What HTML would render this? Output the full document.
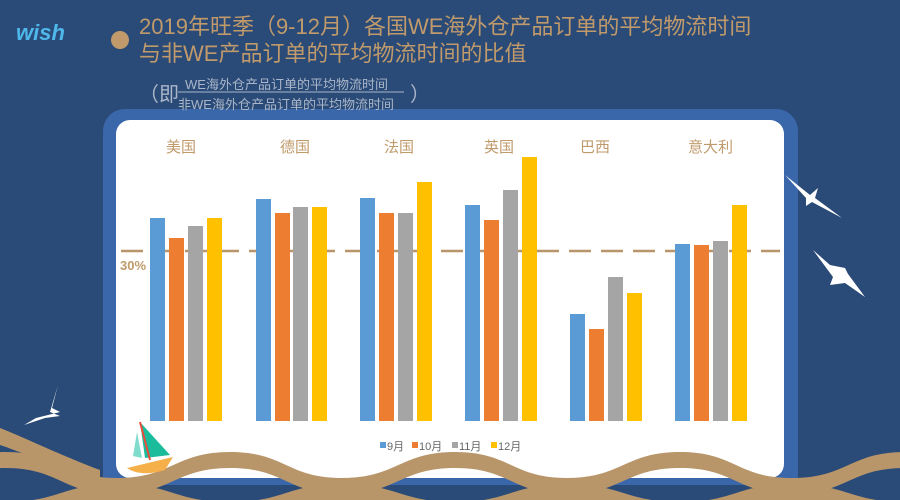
<!DOCTYPE html>
<html><head><meta charset="utf-8"><style>
body{margin:0;width:900px;height:500px;overflow:hidden;background:#2a4a77;font-family:"Liberation Sans","Noto Sans CJK SC",sans-serif;position:relative}
.t{position:absolute;color:#c09a6b;white-space:nowrap}
</style></head><body>
<svg width="900" height="500" style="position:absolute;left:0;top:0">
<rect x="103" y="109" width="695" height="400" rx="22" fill="#3a66aa"/>
<rect x="116" y="120" width="668" height="358" rx="14" fill="#fff"/>
<line x1="121" y1="251" x2="780" y2="251" stroke="#b8956a" stroke-width="2.5" stroke-dasharray="22,10"/>
<g fill="#5b9bd5"><rect x="150" y="218" width="15" height="203"/><rect x="256" y="199" width="15" height="222"/><rect x="360" y="198" width="15" height="223"/><rect x="465" y="205" width="15" height="216"/><rect x="570" y="314" width="15" height="107"/><rect x="675" y="244" width="15" height="177"/></g>
<g fill="#ed7d31"><rect x="169" y="238" width="15" height="183"/><rect x="275" y="213" width="15" height="208"/><rect x="379" y="213" width="15" height="208"/><rect x="484" y="220" width="15" height="201"/><rect x="589" y="329" width="15" height="92"/><rect x="694" y="245" width="15" height="176"/></g>
<g fill="#a5a5a5"><rect x="188" y="226" width="15" height="195"/><rect x="293" y="207" width="15" height="214"/><rect x="398" y="213" width="15" height="208"/><rect x="503" y="190" width="15" height="231"/><rect x="608" y="277" width="15" height="144"/><rect x="713" y="241" width="15" height="180"/></g>
<g fill="#ffc000"><rect x="207" y="218" width="15" height="203"/><rect x="312" y="207" width="15" height="214"/><rect x="417" y="182" width="15" height="239"/><rect x="522" y="157" width="15" height="264"/><rect x="627" y="293" width="15" height="128"/><rect x="732" y="205" width="15" height="216"/></g>
<rect x="380" y="442" width="6" height="6" fill="#5b9bd5"/><rect x="412" y="442" width="6" height="6" fill="#ed7d31"/><rect x="452" y="442" width="6" height="6" fill="#a5a5a5"/><rect x="491" y="442" width="6" height="6" fill="#ffc000"/>
<rect x="0" y="485" width="900" height="15" fill="#2a4a77"/>
<g fill="#b8966a">
<path d="M-220,452 C-165,452 -163,478 -108,478 C-53,478 -50,452 5,452 C60,452 62,478 117,478 C172,478 175,452 230,452 C285,452 287,478 342,478 C397,478 400,452 455,452 C510,452 512,478 567,478 C622,478 625,452 680,452 C735,452 737,478 792,478 C847,478 850,452 905,452
L905,468 C850,468 847,494 792,494 C737,494 735,468 680,468 C625,468 622,494 567,494 C512,494 510,468 455,468 C400,468 397,494 342,494 C287,494 285,468 230,468 C175,468 172,494 117,494 C62,494 60,468 5,468 C-50,468 -53,494 -108,494 Z"/>
<path d="M5,502 C60,502 62,484 117,484 C172,484 175,502 230,502 C285,502 287,484 342,484 C397,484 400,502 455,502 C510,502 512,484 567,484 C622,484 625,502 680,502 C735,502 737,484 792,484 C847,484 850,502 905,502 L905,510 L5,510Z"/>
<path d="M0,428 C30,440 60,455 100,470 L100,480 C60,470 30,455 0,445Z"/>
</g>
<path d="M140,422 L170,455 L145,458Z" fill="#1abc9c"/><path d="M137,432 L142,458 L133,456Z" fill="#7fdccc"/>
<line x1="140" y1="422" x2="150" y2="460" stroke="#e74c3c" stroke-width="2"/>
<path d="M127,468 L173,457 L165,470 C150,475 135,474 127,468Z" fill="#f5b04a"/>
<g fill="#fff">
<path d="M785,175 L810,195 L818,188 L815,198 L842,218 L812,202 L806,206 L806,198Z"/>
<path d="M813,250 L830,265 L845,268 L848,274 L865,297 L845,283 L830,285 L833,277Z"/>
<path d="M58,385 L52,408 L60,412 L36,418 L24,425 L45,418 L60,416 L50,412 Z"/>
</g>
<circle cx="120" cy="40" r="9" fill="#c09a6b"/>
<line x1="178" y1="92" x2="404" y2="92" stroke="#aab6c9" stroke-width="1"/>
</svg>
<div class="t" style="left:16px;top:20px;color:#4fb8ea;font-weight:bold;font-size:22px;font-style:italic">wish</div>
<div class="t" style="left:139px;top:13px;font-size:22px;line-height:27px">2019年旺季（9-12月）各国WE海外仓产品订单的平均物流时间<br>与非WE产品订单的平均物流时间的比值</div>
<div class="t" style="left:139px;top:78px;font-size:20px;color:#aab6c9">（即</div>
<div class="t" style="left:185px;top:74px;font-size:13px;color:#aab6c9">WE海外仓产品订单的平均物流时间</div>
<div class="t" style="left:178px;top:94px;font-size:13px;color:#aab6c9">非WE海外仓产品订单的平均物流时间</div>
<div class="t" style="left:410px;top:78px;font-size:20px;color:#aab6c9">）</div>
<div class="t" style="left:166px;top:136px;font-size:15px">美国</div>
<div class="t" style="left:280px;top:136px;font-size:15px">德国</div>
<div class="t" style="left:384px;top:136px;font-size:15px">法国</div>
<div class="t" style="left:484px;top:136px;font-size:15px">英国</div>
<div class="t" style="left:580px;top:136px;font-size:15px">巴西</div>
<div class="t" style="left:688px;top:136px;font-size:15px">意大利</div>
<div class="t" style="left:120px;top:258px;font-size:13px;font-weight:bold">30%</div>
<div class="t" style="left:387px;top:438px;font-size:11px;color:#666">9月</div>
<div class="t" style="left:419px;top:438px;font-size:11px;color:#666">10月</div>
<div class="t" style="left:459px;top:438px;font-size:11px;color:#666">11月</div>
<div class="t" style="left:498px;top:438px;font-size:11px;color:#666">12月</div>
</body></html>
